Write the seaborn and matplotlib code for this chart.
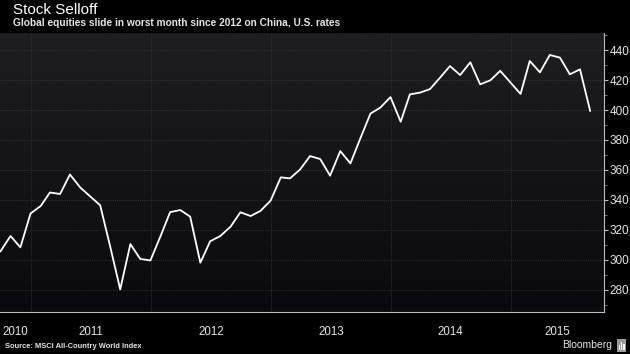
import pandas as pd
import numpy as np
import matplotlib
matplotlib.use("Agg")
import matplotlib.pyplot as plt
import matplotlib.dates as mdates
import matplotlib.transforms as mtransforms
from matplotlib.patches import Rectangle
import seaborn as sns

# ---------------------------------------------------------------
# data: MSCI ACWI month-end values, Sep 2010 .. Aug 2015
# ---------------------------------------------------------------
months = pd.date_range('2010-09-30', periods=60, freq='ME')
index_values = [
    305.6, 316.0, 308.4, 331.0, 336.0, 345.0, 344.0, 357.0, 348.4, 342.5,
    336.5, 308.5, 280.4, 310.6, 300.7, 299.7, 316.0, 331.9, 333.3, 328.9,
    298.2, 312.5, 316.0, 322.2, 331.8, 329.3, 332.7, 339.6, 355.1, 354.4,
    360.4, 369.3, 367.3, 356.2, 372.6, 364.4, 381.0, 397.6, 401.6, 408.6,
    392.2, 410.4, 411.6, 413.9, 421.6, 429.3, 423.3, 431.8, 417.1, 419.8,
    426.1, 418.4, 410.7, 432.7, 425.1, 436.7, 434.9, 423.8, 427.1, 399.3,
]
df = pd.DataFrame({'Monat': months, 'Index': index_values})

y_ticks = [280, 300, 320, 340, 360, 380, 400, 420, 440]
years = [2010, 2011, 2012, 2013, 2014, 2015]

title = 'Stock Selloff'
subtitle = 'Global equities slide in worst month since 2012 on China, U.S. rates'
source = 'Source: MSCI All-Country World Index'

# ---------------------------------------------------------------
# figure
# ---------------------------------------------------------------
sns.set_theme(style="dark")
plt.rcParams['font.family'] = ['Liberation Sans', 'DejaVu Sans']

fig = plt.figure(figsize=(6.3, 3.54), dpi=100, facecolor='black')
ax = fig.add_axes([0.0, 0.1186, 0.9587, 0.788])
ax.set_facecolor('black')

x_lo = pd.Timestamp('2010-09-29')
x_hi = pd.Timestamp('2015-10-12')
y_lo, y_hi = 265.3, 451.3

# gradient background of the plot area
grad = np.linspace(0, 1, 256).reshape(-1, 1)
cmap = matplotlib.colors.LinearSegmentedColormap.from_list('bg', ['#0a0a0e', '#1e1e20'])
ax.imshow(grad, aspect='auto', cmap=cmap, origin='lower',
          extent=[mdates.date2num(x_lo), mdates.date2num(x_hi), y_lo, y_hi], zorder=0)

sns.lineplot(data=df, x='Monat', y='Index', color='white', linewidth=1.3, ax=ax, zorder=3)

ax.set_xlim(x_lo, x_hi)
ax.set_ylim(y_lo, y_hi)
ax.set_xlabel('')
ax.set_ylabel('')

# y axis on the right
ax.yaxis.tick_right()
ax.set_yticks(y_ticks)
ax.set_yticks(np.arange(270, 451, 10), minor=True)
ax.tick_params(axis='y', which='major', direction='out', length=3, width=0.8,
               color='#bbbbbb', labelcolor='#e6e6e6', labelsize=8.5, pad=1)
ax.tick_params(axis='y', which='minor', direction='out', length=2, width=0.6, color='#888888')

# x axis: long ticks at year boundaries, small ticks at quarters
year_starts = [pd.Timestamp(f'{y}-01-01') for y in years[1:]]
quarters = pd.date_range('2010-10-01', '2015-10-01', freq='QS')
ax.set_xticks(year_starts)
ax.set_xticks([q for q in quarters if q.month != 1], minor=True)
ax.set_xticklabels([])
ax.tick_params(axis='x', which='major', direction='out', length=19, width=0.8, color='#999999')
ax.tick_params(axis='x', which='minor', direction='in', length=3, width=0.8, color='#bbbbbb')

# year labels centred in the visible span of each year
trans = mtransforms.blended_transform_factory(ax.transData, ax.transAxes)
for y in years:
    a = max(pd.Timestamp(f'{y}-01-01'), x_lo)
    b = min(pd.Timestamp(f'{y + 1}-01-01'), x_hi)
    mid = a + (b - a) / 2
    ax.text(mid, -0.072, str(y), transform=trans, ha='center', va='center',
            color='#e6e6e6', fontsize=8.3)

# grid
ax.grid(False)
for yv in y_ticks:
    ax.axhline(yv, color='#3c3c3e', linestyle=(0, (1, 1.5)), linewidth=0.6, zorder=1)
for xs in year_starts:
    ax.axvline(xs, color='#3c3c3e', linestyle=(0, (1, 1.5)), linewidth=0.6, zorder=1)

for side in ['top', 'left']:
    ax.spines[side].set_visible(False)
for side in ['right', 'bottom']:
    ax.spines[side].set_visible(True)
    ax.spines[side].set_color('#bbbbbb')
    ax.spines[side].set_linewidth(0.8)

# texts
fig.text(13 / 630, 1 - 10 / 354, title, color='white', fontsize=11, va='center', ha='left')
fig.text(13 / 630, 1 - 23.5 / 354, subtitle, color='#e6e6e6', fontsize=7.3, va='center',
         ha='left', fontweight='bold')
fig.text(5 / 630, 1 - 347 / 354, source, color='#e6e6e6', fontsize=5.4, va='center',
         ha='left', fontweight='bold')
fig.text(612 / 630, 1 - 345 / 354, 'Bloomberg', color='#e6e6e6', fontsize=7.5,
         va='center', ha='right')

# small logo box
fig.patches.append(Rectangle((617 / 630, 1 - 352 / 354), 9 / 630, 13 / 354,
                             transform=fig.transFigure, facecolor='#9a9aa0',
                             edgecolor='none'))
for i, h in enumerate([5, 8, 6]):
    fig.patches.append(Rectangle(((618.8 + i * 2.3) / 630, 1 - 350 / 354), 1.2 / 630, h / 354,
                                 transform=fig.transFigure, facecolor='white', edgecolor='none'))

fig.savefig('out.png', dpi=100, facecolor='black')
